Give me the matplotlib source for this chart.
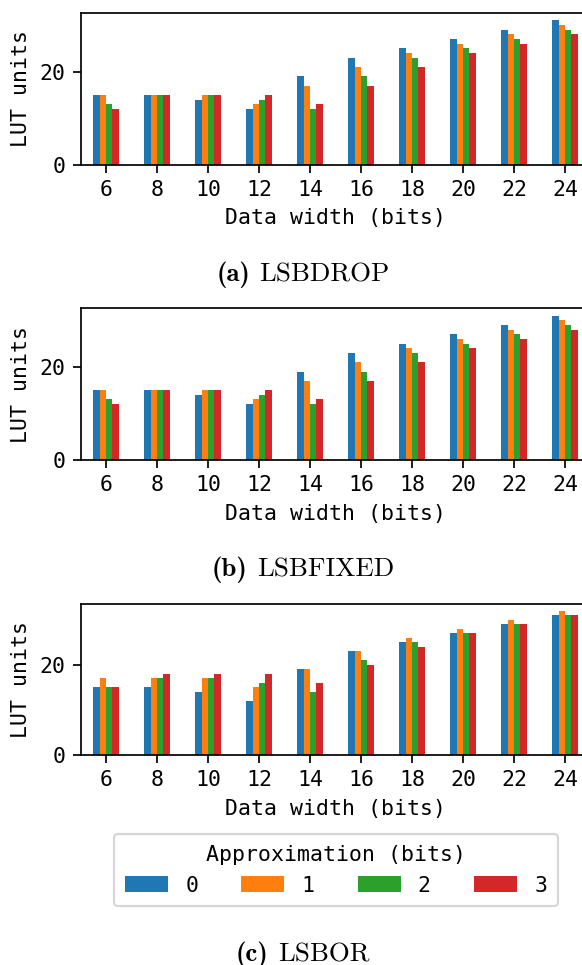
import numpy as np
import pandas as pd
import matplotlib
matplotlib.use("Agg")
import matplotlib.pyplot as plt
from matplotlib.offsetbox import TextArea, HPacker, AnchoredOffsetbox

# 데이터 폭 (bits)
widths = [6, 8, 10, 12, 14, 16, 18, 20, 22, 24]
approx_bits = ["0", "1", "2", "3"]

# LSBDROP : 근사 비트 0~3 별 LUT 사용량
drop_0 = [15, 15, 14, 12, 19, 23, 25, 27, 29, 31]
drop_1 = [15, 15, 15, 13, 17, 21, 24, 26, 28, 30]
drop_2 = [13, 15, 15, 14, 12, 19, 23, 25, 27, 29]
drop_3 = [12, 15, 15, 15, 13, 17, 21, 24, 26, 28]

# LSBFIXED
fixed_0 = [15, 15, 14, 12, 19, 23, 25, 27, 29, 31]
fixed_1 = [15, 15, 15, 13, 17, 21, 24, 26, 28, 30]
fixed_2 = [13, 15, 15, 14, 12, 19, 23, 25, 27, 29]
fixed_3 = [12, 15, 15, 15, 13, 17, 21, 24, 26, 28]

# LSBOR
or_0 = [15, 15, 14, 12, 19, 23, 25, 27, 29, 31]
or_1 = [17, 17, 17, 15, 19, 23, 26, 28, 30, 32]
or_2 = [15, 17, 17, 16, 14, 21, 25, 27, 29, 31]
or_3 = [15, 18, 18, 18, 16, 20, 24, 27, 29, 31]

caption_tags = ["(a)", "(b)", "(c)"]
caption_names = ["LSBDROP", "LSBFIXED", "LSBOR"]

plt.rcParams["font.family"] = ["DejaVu Sans Mono"]

DPI = 155
W, H = 582, 965
fig = plt.figure(figsize=(W / DPI, H / DPI), dpi=DPI)

# 축 위치 (픽셀 기준) - 오른쪽 끝은 그림 밖으로 조금 나감
ax_left, ax_width, ax_height = 80.5, 510, 151.5
ax_bottoms = [164.7, 460, 755]
caption_y = [275, 570, 955]

series = [
    [drop_0, drop_1, drop_2, drop_3],
    [fixed_0, fixed_1, fixed_2, fixed_3],
    [or_0, or_1, or_2, or_3],
]

axes = []
for i, vals in enumerate(series):
    ax = fig.add_axes([ax_left / W, 1 - ax_bottoms[i] / H, ax_width / W, ax_height / H])
    df = pd.DataFrame({b: v for b, v in zip(approx_bits, vals)}, index=widths)
    df.plot.bar(ax=ax, rot=0, legend=False)
    ax.set_xlabel("Data width (bits)")
    ax.set_ylabel("LUT units")
    ax.set_yticks([0, 20])

    # 캡션: "(a)" 굵게 + 이름
    tag = TextArea(caption_tags[i], textprops=dict(family="cmb10", size=12.5))
    name = TextArea(caption_names[i], textprops=dict(family="cmr10", size=12.5))
    box = HPacker(children=[tag, name], align="baseline", pad=0, sep=4.5)
    anchored = AnchoredOffsetbox(loc="center", child=box, pad=0, borderpad=0, frameon=False,
                                 bbox_to_anchor=(303 / W, 1 - caption_y[i] / H),
                                 bbox_transform=fig.transFigure)
    fig.add_artist(anchored)
    axes.append(ax)

# 범례는 마지막 그래프 아래에
handles, labels = axes[-1].get_legend_handles_labels()
fig.legend(handles, labels, title="Approximation (bits)", ncol=4,
           loc="upper center", bbox_to_anchor=(336 / W, 1 - 834 / H), borderaxespad=0,
           borderpad=0.5)

fig.savefig("out.png", dpi=DPI)
